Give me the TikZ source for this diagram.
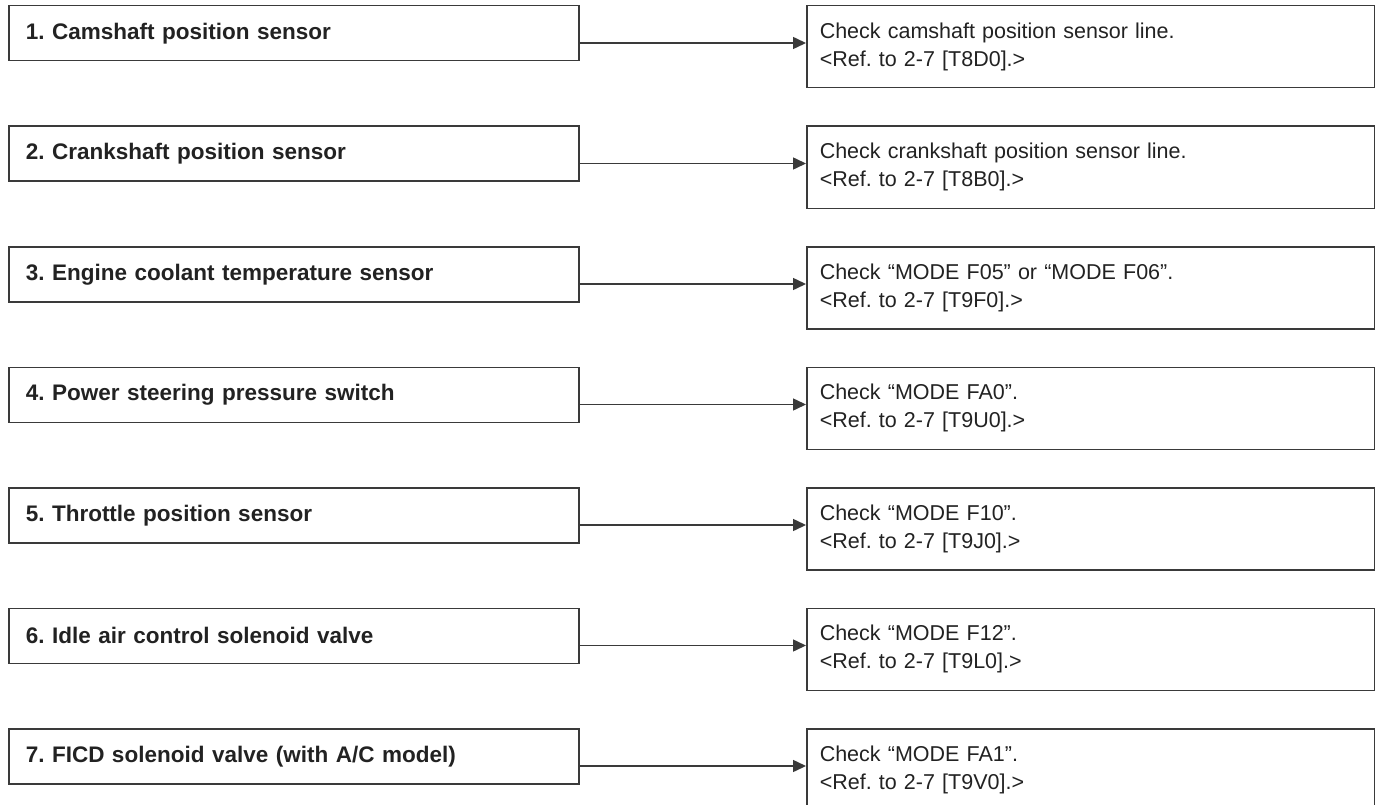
\documentclass[tikz,border=0pt]{standalone}
\usepackage{fontspec}
\setmainfont{Liberation Sans}
\usetikzlibrary{arrows.meta,calc}
\frenchspacing
\definecolor{ln}{HTML}{3A3A3A}
\definecolor{tx}{HTML}{222222}
\tikzset{
  leftbox/.style={draw=ln, line width=1.5pt, rectangle, anchor=north west,
    minimum width=570pt, minimum height=55pt, text width=536pt, align=left,
    inner xsep=17pt, inner ysep=0pt, font=\fontsize{22.5}{28}\selectfont\bfseries, text=tx},
  rightbox/.style={draw=ln, line width=1.5pt, rectangle, anchor=north west,
    minimum width=568pt, minimum height=82pt, text width=542pt, align=left,
    inner xsep=13pt, inner ysep=0pt, font=\fontsize{21.5}{28}\selectfont, text=tx},
  arr/.style={draw=ln, line width=1.5pt, -{Triangle[length=13pt,width=12pt]}}
}
\begin{document}
\frenchspacing
\begin{tikzpicture}[x=1pt,y=-1pt]
\useasboundingbox (0,0) rectangle (1375,805);
\clip (0,0) rectangle (1375,805);
\foreach \i/\lt/\ra/\rb in {
  0/{1. Camshaft position sensor}/{Check camshaft position sensor line.}/{T8D0},
  1/{2. Crankshaft position sensor}/{Check crankshaft position sensor line.}/{T8B0},
  2/{3. Engine coolant temperature sensor}/{Check “MODE F05” or “MODE F06”.}/{T9F0},
  3/{4. Power steering pressure switch}/{Check “MODE FA0”.}/{T9U0},
  4/{5. Throttle position sensor}/{Check “MODE F10”.}/{T9J0},
  5/{6. Idle air control solenoid valve}/{Check “MODE F12”.}/{T9L0},
  6/{7. FICD solenoid valve (with A/C model)}/{Check “MODE FA1”.}/{T9V0}}{
  \pgfmathsetmacro{\t}{5+120.5*\i}
  \node[leftbox] (L\i) at (8,\t) {\lt};
  \node[rightbox] (R\i) at (806,\t) {\ra\\<Ref. to 2-7 [\rb].>};
  \draw[arr] ($(L\i.north east)+(0,38)$) -- ($(R\i.north west)+(0,38)$);
}
\end{tikzpicture}
\end{document}
